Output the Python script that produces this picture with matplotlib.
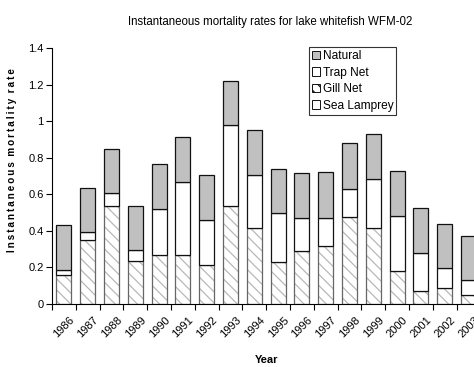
import numpy as np
import matplotlib
matplotlib.use("Agg")
import matplotlib.pyplot as plt
from matplotlib.transforms import ScaledTranslation
from matplotlib.patches import Patch

years = ["1986", "1987", "1988", "1989", "1990", "1991", "1992", "1993", "1994",
         "1995", "1996", "1997", "1998", "1999", "2000", "2001", "2002", "2003"]
# cumulative tops
gill_top = [0.158, 0.349, 0.536, 0.236, 0.267, 0.267, 0.213, 0.535, 0.418,
            0.227, 0.289, 0.318, 0.476, 0.413, 0.180, 0.073, 0.085, 0.049]
trap_top = [0.185, 0.395, 0.607, 0.295, 0.520, 0.667, 0.458, 0.977, 0.704,
            0.495, 0.473, 0.473, 0.631, 0.682, 0.480, 0.280, 0.195, 0.131]
total = [0.431, 0.637, 0.850, 0.536, 0.767, 0.912, 0.706, 1.222, 0.953,
         0.740, 0.718, 0.722, 0.880, 0.931, 0.727, 0.527, 0.440, 0.373]

sea_lamprey = np.zeros(len(years))
gill_net = np.array(gill_top)
trap_net = np.array(trap_top) - np.array(gill_top)
natural = np.array(total) - np.array(trap_top)

plt.rcParams['font.family'] = ['Liberation Sans', 'DejaVu Sans']
plt.rcParams['hatch.color'] = '#b8b8b8'
plt.rcParams['hatch.linewidth'] = 0.9

fig = plt.figure(figsize=(4.74, 3.67), dpi=100)
ax = fig.add_axes([0.1097, 0.1717, 0.904, 0.6975])

x = np.arange(len(years))
w = 0.63
lw = 0.9
ec = '#111111'

b0 = np.zeros(len(years))
ax.bar(x, sea_lamprey, w, bottom=b0, color='white', edgecolor=ec, linewidth=lw)
b1 = b0 + sea_lamprey
ax.bar(x, gill_net, w, bottom=b1, color='white', hatch='\\\\\\', linewidth=0)
ax.bar(x, gill_net, w, bottom=b1, fill=False, edgecolor='#666666', linewidth=lw)
b2 = b1 + gill_net
ax.bar(x, trap_net, w, bottom=b2, color='white', edgecolor=ec, linewidth=lw)
b3 = b2 + trap_net
ax.bar(x, natural, w, bottom=b3, color='#c0c0c0', edgecolor=ec, linewidth=lw)

ax.set_xlim(-0.5, len(years) - 0.5)
ax.set_ylim(0, 1.4)
ax.set_yticks([0, 0.2, 0.4, 0.6, 0.8, 1.0, 1.2, 1.4])
ax.set_yticklabels(["0", "0.2", "0.4", "0.6", "0.8", "1", "1.2", "1.4"], fontsize=8)
ax.tick_params(axis='y', direction='out', length=4, width=0.8, pad=2)

ax.set_xticks(x)
ax.set_xticklabels(years, rotation=45, ha='right', va='top', fontsize=8)
ax.tick_params(axis='x', which='major', length=0, pad=8)
ax.set_xticks(np.arange(-0.5, len(years), 1.0), minor=True)
ax.tick_params(axis='x', which='minor', direction='out', length=4, width=0.8)
offset = ScaledTranslation(9 / 72, 0, fig.dpi_scale_trans)
for lab in ax.get_xticklabels():
    lab.set_transform(lab.get_transform() + offset)

for s in ['top', 'right']:
    ax.spines[s].set_visible(False)
ax.spines['left'].set_linewidth(0.8)
ax.spines['bottom'].set_linewidth(0.8)

ax.set_xlabel("Year", fontsize=8, fontweight='bold')
ax.xaxis.set_label_coords(0.5, -0.199)
ylabel_text = "Instantaneous mortality rate"
spaced = "  ".join("\u2009".join(word) for word in ylabel_text.split(" "))
ax.set_ylabel(spaced, fontsize=7.1, fontweight='bold')
ax.yaxis.set_label_coords(-0.082, 0.5625)

fig.text(0.569, 0.94, "Instantaneous mortality rates for lake whitefish WFM-02",
         ha='center', va='center', fontsize=8.3)

handles = [Patch(facecolor='#c0c0c0', edgecolor=ec, linewidth=0.7),
           Patch(facecolor='white', edgecolor=ec, linewidth=0.7),
           Patch(facecolor='white', edgecolor=ec, linewidth=0.7, hatch='\\\\\\'),
           Patch(facecolor='white', edgecolor=ec, linewidth=0.7)]
leg = ax.legend(handles, ["Natural", "Trap Net", "Gill Net", "Sea Lamprey"],
                loc='upper left', bbox_to_anchor=(309 / 474, 1 - 47 / 367),
                bbox_transform=fig.transFigure, fontsize=8.6, frameon=True,
                fancybox=False, handlelength=0.7, handleheight=0.7,
                handletextpad=0.2, borderpad=0.25, labelspacing=0.38,
                borderaxespad=0)
leg.get_frame().set_edgecolor('black')
leg.get_frame().set_linewidth(0.8)

fig.savefig("out.png", dpi=100)
